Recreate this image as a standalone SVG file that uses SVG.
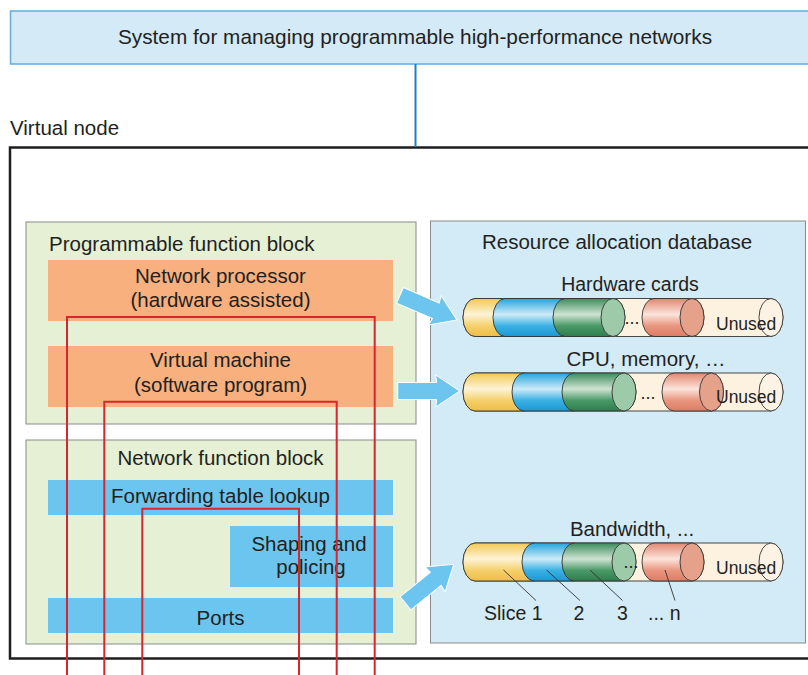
<svg xmlns="http://www.w3.org/2000/svg" width="808" height="675" viewBox="0 0 808 675">
  <style>
    text { font-family: "Liberation Sans", Arial, sans-serif; fill: #231f20; }
    .lbl { font-size: 20.5px; }
    .mid { text-anchor: middle; }
    .cyl-lbl { font-size: 19.5px; }
    .unused { font-size: 17.5px; }
    .block { fill: #e5f0d5; stroke: #8a8a8a; stroke-width: 1; }
    .orange { fill: #f8b07f; }
    .func { fill: #6cc5ee; }
    .seg { stroke: #333; stroke-width: 0.9; }
    .face { stroke: #333; stroke-width: 0.9; }
    .leader { stroke: #333; stroke-width: 0.9; fill: none; }
    .path { fill: none; stroke: #d7262d; stroke-width: 2; }
    .arrow { fill: #6cc5ee; stroke: #ffffff; stroke-width: 1; }
  </style>
  <defs>
    <linearGradient id="gYellow" x1="0" y1="0" x2="0" y2="1">
      <stop offset="0" stop-color="#f3c853"/>
      <stop offset="0.42" stop-color="#fdf3d6"/>
      <stop offset="0.72" stop-color="#f5d06c"/>
      <stop offset="1" stop-color="#eebd45"/>
    </linearGradient>
    <linearGradient id="gBlue" x1="0" y1="0" x2="0" y2="1">
      <stop offset="0" stop-color="#23a4dd"/>
      <stop offset="0.42" stop-color="#cdebf8"/>
      <stop offset="0.72" stop-color="#3cb1e4"/>
      <stop offset="1" stop-color="#1a98d4"/>
    </linearGradient>
    <linearGradient id="gGreen" x1="0" y1="0" x2="0" y2="1">
      <stop offset="0" stop-color="#3b8c5b"/>
      <stop offset="0.42" stop-color="#cfe3d3"/>
      <stop offset="0.72" stop-color="#4a9a68"/>
      <stop offset="1" stop-color="#2e7d4e"/>
    </linearGradient>
    <linearGradient id="gRed" x1="0" y1="0" x2="0" y2="1">
      <stop offset="0" stop-color="#e2866f"/>
      <stop offset="0.42" stop-color="#fbe4db"/>
      <stop offset="0.72" stop-color="#e9967f"/>
      <stop offset="1" stop-color="#dd7c65"/>
    </linearGradient>
    <path id="blockArrow" d="M0,-8.5 L39,-8.5 L38,-16 L62,0 L38,16 L39,8.5 L0,8.5 Z"/>
  </defs>

  <!-- management system -->
  <g id="management-system">
    <rect x="10.5" y="11" width="810" height="53" fill="#d4eaf7" stroke="#6aa9d9" stroke-width="1.5"/>
    <text class="mid" x="415" y="44" font-size="20.8">System for managing programmable high-performance networks</text>
  </g>

  <!-- virtual node frame -->
  <g id="virtual-node">
    <text class="lbl" x="10" y="135">Virtual node</text>
    <rect x="10" y="147.5" width="820" height="511" fill="#ffffff" stroke="#1e1e1e" stroke-width="2.5"/>
  </g>

  <!-- programmable function block -->
  <g id="programmable-block">
    <rect class="block" x="26" y="222" width="390" height="202"/>
    <text class="lbl" x="49" y="251">Programmable function block</text>
  </g>
  <g id="network-processor">
    <rect class="orange" x="48" y="260" width="345" height="61"/>
    <text class="lbl mid" x="220.5" y="283">Network processor</text>
    <text class="lbl mid" x="220.5" y="307">(hardware assisted)</text>
  </g>
  <g id="virtual-machine">
    <rect class="orange" x="48" y="346" width="345" height="61"/>
    <text class="lbl mid" x="220.5" y="367">Virtual machine</text>
    <text class="lbl mid" x="220.5" y="392">(software program)</text>
  </g>

  <!-- network function block -->
  <g id="network-block">
    <rect class="block" x="26" y="440" width="390" height="204"/>
    <text class="lbl mid" x="220.5" y="465">Network function block</text>
  </g>
  <g id="forwarding">
    <rect class="func" x="48" y="480" width="345" height="35"/>
    <text class="lbl mid" x="220.5" y="503">Forwarding table lookup</text>
  </g>
  <g id="shaping">
    <rect class="func" x="230" y="526" width="163" height="61"/>
    <text class="lbl mid" x="309" y="551">Shaping and</text>
    <text class="lbl mid" x="311" y="574">policing</text>
  </g>
  <g id="ports">
    <rect class="func" x="48" y="598" width="345" height="35"/>
    <text class="lbl mid" x="220.5" y="624.5">Ports</text>
  </g>

  <!-- resource allocation database -->
  <g id="resource-db">
    <rect x="430.5" y="221" width="375" height="422" fill="#d3eaf7" stroke="#8a8a8a" stroke-width="1"/>
    <text class="lbl mid" x="617" y="248.5">Resource allocation database</text>
  </g>

  <!-- hardware cards pool -->
  <g id="hardware-cards">
    <text class="mid" x="630" y="291" font-size="19.5">Hardware cards</text>
    <path class="seg" fill="#fdf1e0" d="M475,298.5 L771,298.5 A12,19 0 0 1 771,336.5 L475,336.5 A12,19 0 0 1 475,298.5 Z"/>
    <ellipse class="face" cx="771" cy="317.5" rx="12" ry="19" fill="#fdf3e4"/>
    <path class="seg" fill="url(#gYellow)" d="M475,298.5 L505,298.5 A12,19 0 0 1 505,336.5 L475,336.5 A12,19 0 0 1 475,298.5 Z"/>
    <path class="seg" fill="url(#gBlue)" d="M505,298.5 L565,298.5 A12,19 0 0 1 565,336.5 L505,336.5 A12,19 0 0 1 505,298.5 Z"/>
    <path class="seg" fill="url(#gGreen)" d="M565,298.5 L613,298.5 A12,19 0 0 1 613,336.5 L565,336.5 A12,19 0 0 1 565,298.5 Z"/>
    <ellipse class="face" cx="613" cy="317.5" rx="12" ry="19" fill="#9dcaa8"/>
    <path class="seg" fill="url(#gRed)" d="M654,298.5 L692,298.5 A12,19 0 0 1 692,336.5 L654,336.5 A12,19 0 0 1 654,298.5 Z"/>
    <ellipse class="face" cx="692" cy="317.5" rx="12" ry="19" fill="#e6a18b"/>
    <text class="mid" x="632" y="324" font-size="18">...</text>
    <text class="unused" x="716" y="329.5">Unused</text>
  </g>

  <!-- cpu / memory pool -->
  <g id="cpu-memory">
    <text class="lbl mid" x="646" y="366">CPU, memory, …</text>
    <path class="seg" fill="#fdf1e0" d="M475,373 L771,373 A12,19 0 0 1 771,411 L475,411 A12,19 0 0 1 475,373 Z"/>
    <ellipse class="face" cx="771" cy="392" rx="12" ry="19" fill="#fdf3e4"/>
    <path class="seg" fill="url(#gYellow)" d="M475,373 L524,373 A12,19 0 0 1 524,411 L475,411 A12,19 0 0 1 475,373 Z"/>
    <path class="seg" fill="url(#gBlue)" d="M524,373 L574,373 A12,19 0 0 1 574,411 L524,411 A12,19 0 0 1 524,373 Z"/>
    <path class="seg" fill="url(#gGreen)" d="M574,373 L624,373 A12,19 0 0 1 624,411 L574,411 A12,19 0 0 1 574,373 Z"/>
    <ellipse class="face" cx="624" cy="392" rx="12" ry="19" fill="#9dcaa8"/>
    <path class="seg" fill="url(#gRed)" d="M674,373 L711.5,373 A12,19 0 0 1 711.5,411 L674,411 A12,19 0 0 1 674,373 Z"/>
    <ellipse class="face" cx="711.5" cy="392" rx="12" ry="19" fill="#e6a18b"/>
    <text class="mid" x="648" y="399" font-size="18">...</text>
    <text class="unused" x="716" y="403">Unused</text>
  </g>

  <!-- bandwidth pool -->
  <g id="bandwidth">
    <text class="lbl mid" x="632" y="536">Bandwidth, ...</text>
    <path class="seg" fill="#fdf1e0" d="M475,543 L771,543 A12,19 0 0 1 771,581 L475,581 A12,19 0 0 1 475,543 Z"/>
    <ellipse class="face" cx="771" cy="562" rx="12" ry="19" fill="#fdf3e4"/>
    <path class="seg" fill="url(#gYellow)" d="M475,543 L534,543 A12,19 0 0 1 534,581 L475,581 A12,19 0 0 1 475,543 Z"/>
    <path class="seg" fill="url(#gBlue)" d="M534,543 L574,543 A12,19 0 0 1 574,581 L534,581 A12,19 0 0 1 534,543 Z"/>
    <path class="seg" fill="url(#gGreen)" d="M574,543 L624,543 A12,19 0 0 1 624,581 L574,581 A12,19 0 0 1 574,543 Z"/>
    <ellipse class="face" cx="624" cy="562" rx="12" ry="19" fill="#9dcaa8"/>
    <path class="seg" fill="url(#gRed)" d="M654,543 L692,543 A12,19 0 0 1 692,581 L654,581 A12,19 0 0 1 654,543 Z"/>
    <ellipse class="face" cx="692" cy="562" rx="12" ry="19" fill="#e6a18b"/>
    <text class="mid" x="631" y="568" font-size="18">...</text>
    <text class="unused" x="716" y="573.5">Unused</text>
    <path class="leader" d="M503.5,570 L536,600.5 M546.5,570 L580,600.5 M590,570 L622.5,600.5 M665,570 L675,600.5"/>
    <text class="cyl-lbl" x="484" y="619.5">Slice 1</text>
    <text class="cyl-lbl mid" x="579" y="619.5">2</text>
    <text class="cyl-lbl mid" x="622.5" y="619.5">3</text>
    <text class="cyl-lbl" x="648" y="619.5">... n</text>
  </g>

  <!-- connectors -->
  <g id="connectors">
    <line x1="415.5" y1="64" x2="415.5" y2="147" stroke="#1f7fc0" stroke-width="2"/>
    <use href="#blockArrow" class="arrow" transform="translate(400,295.3) rotate(23.4)"/>
    <use href="#blockArrow" class="arrow" transform="translate(397.7,391)"/>
    <use href="#blockArrow" class="arrow" transform="translate(405.5,603.3) rotate(-39)"/>
    <path class="path" d="M67,675 V317 H374.7 V675"/>
    <path class="path" d="M104.3,675 V401.7 H336.7 V675"/>
    <path class="path" d="M142.3,675 V508.7 H299 V675"/>
  </g>
</svg>
